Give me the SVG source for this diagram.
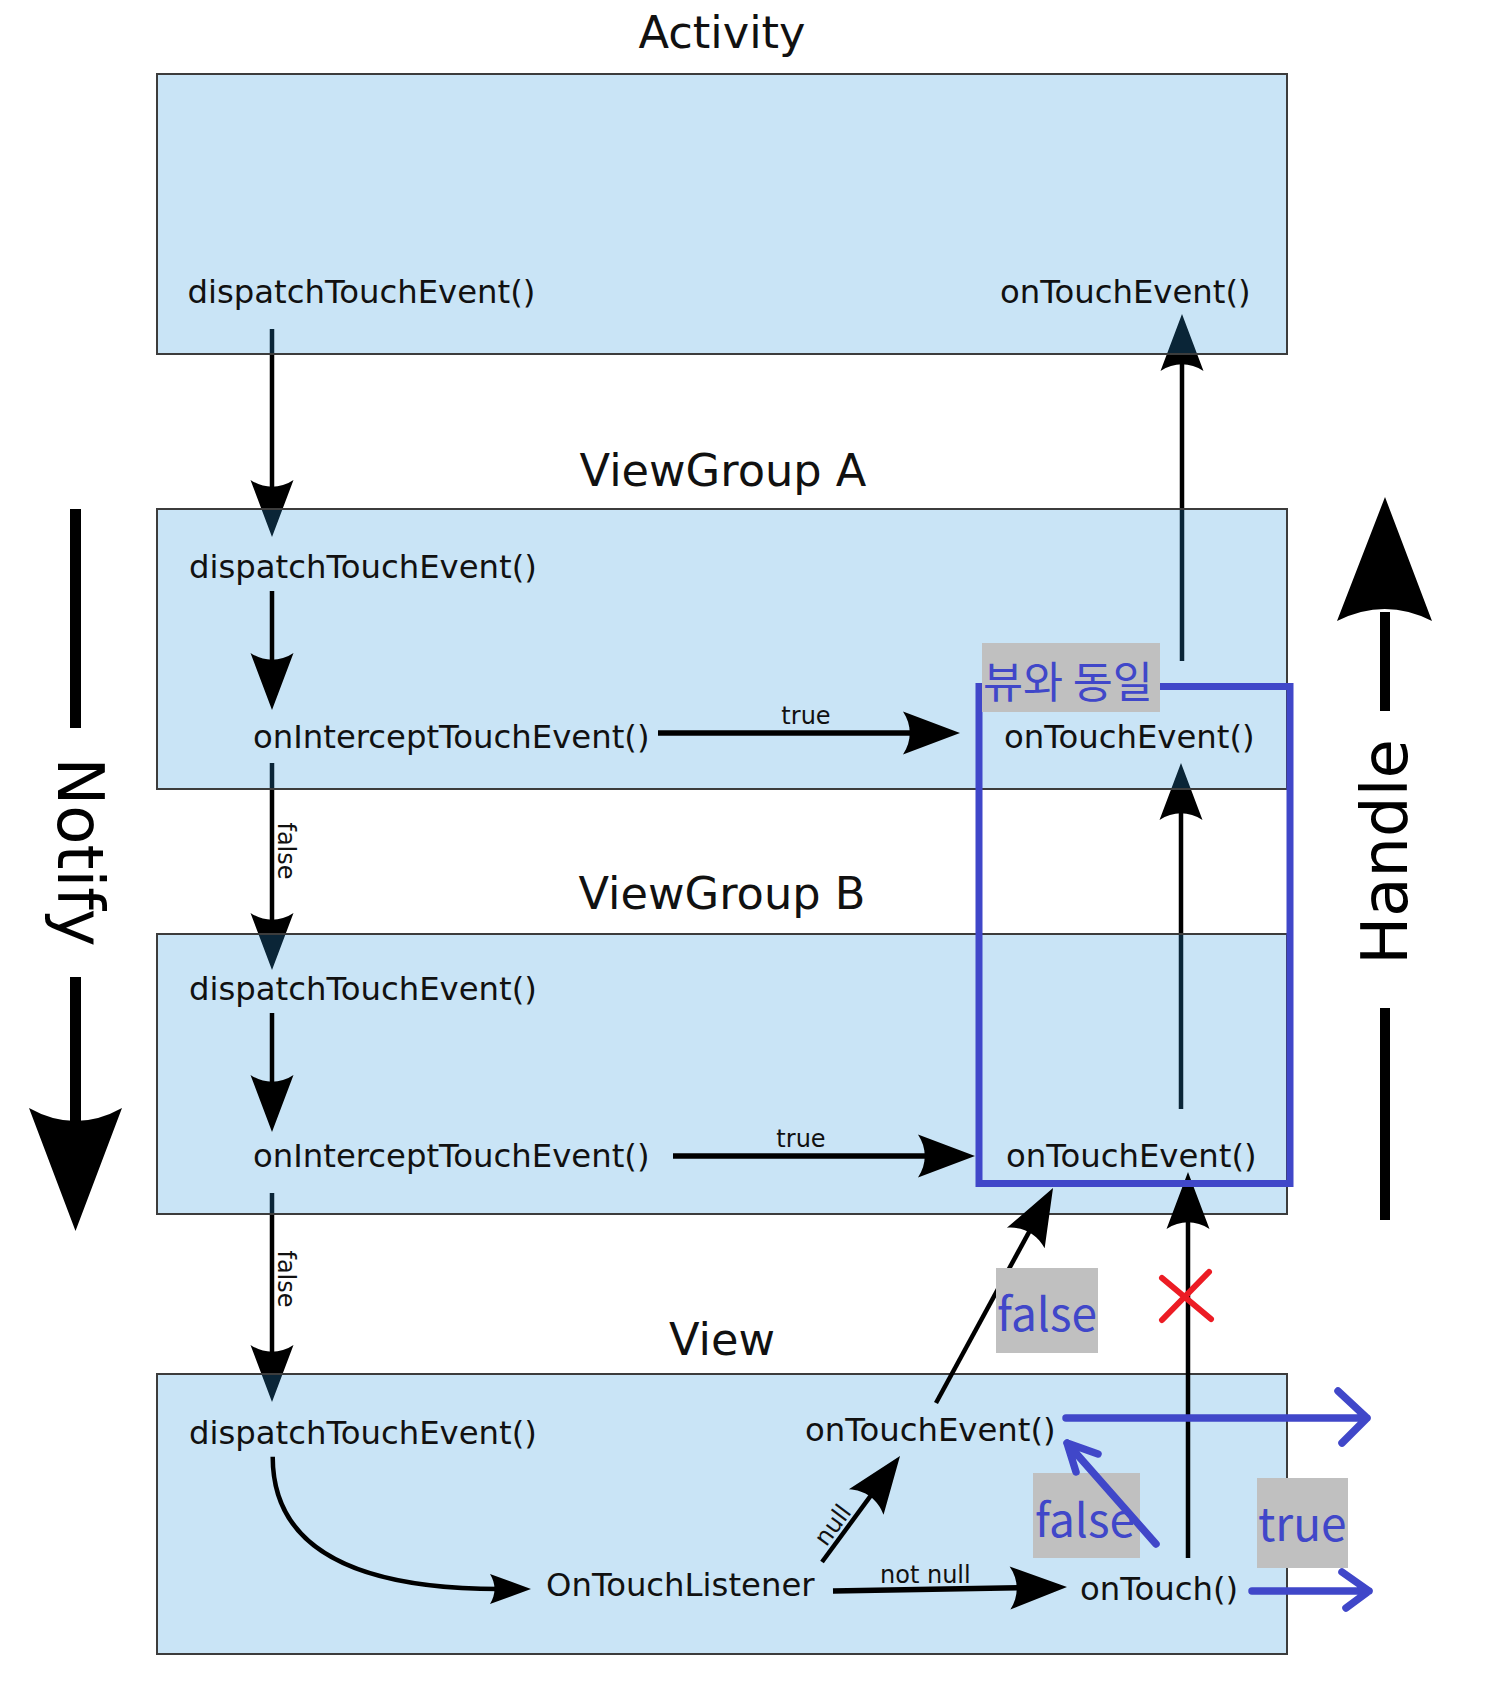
<svg xmlns="http://www.w3.org/2000/svg" width="1491" height="1681" viewBox="0 0 1491 1681">
<style>
.box{fill:rgb(40,148,220);fill-opacity:0.25;stroke:#3c3c3c;stroke-width:2}
.title{font-family:"DejaVu Sans",sans-serif;font-size:44.7px;fill:#111;text-anchor:middle}
.fn{font-family:"DejaVu Sans",sans-serif;font-size:32.3px;fill:#111}
.lbl{font-family:"DejaVu Sans",sans-serif;font-size:24px;fill:#111}
.big{font-family:"DejaVu Sans",sans-serif;font-size:64px;fill:#000;text-anchor:middle}
.ln{fill:none;stroke:#000;stroke-width:4.5}
.lnb{fill:none;stroke:#000;stroke-width:5.5}
.blue{fill:none;stroke:#4047c9;stroke-width:7.5;stroke-linecap:round;stroke-linejoin:round}
.gray{fill:#c0c0c0}
.btxt{font-family:"Noto Sans CJK KR","Noto Sans",sans-serif;font-size:46px;fill:#4047c9}
.ktxt{font-family:"Noto Sans CJK KR",sans-serif;font-size:43.5px;fill:#4047c9}
</style>
<defs>
<marker id="h" markerUnits="userSpaceOnUse" orient="auto" overflow="visible" markerWidth="1" markerHeight="1" refX="0" refY="0">
<path d="M40,0 L-17,-21.5 C-8,-8 -8,8 -17,21.5 Z" fill="#000"/>
</marker>
<marker id="hs" markerUnits="userSpaceOnUse" orient="auto" overflow="visible" markerWidth="1" markerHeight="1" refX="0" refY="0">
<path d="M31,0 L-10,-15 C-4,-5 -4,5 -10,15 Z" fill="#000"/>
</marker>
</defs>
<rect width="1491" height="1681" fill="#fff"/>

<g id="connectors-back">
<path class="ln" d="M272,329 V497" marker-end="url(#h)"/>
<path class="ln" d="M272,763 V930" marker-end="url(#h)"/>
<text class="lbl" transform="translate(278,851) rotate(90)" text-anchor="middle">false</text>
<path class="ln" d="M272,1193 V1362" marker-end="url(#h)"/>
<text class="lbl" transform="translate(278,1279) rotate(90)" text-anchor="middle">false</text>
<path class="ln" d="M1182,661 V354" marker-end="url(#h)"/>
<path class="ln" d="M1181,1109 V803" marker-end="url(#h)"/>
</g>

<g id="activity">
<text class="title" x="722" y="48">Activity</text>
<rect class="box" x="157" y="74" width="1130" height="280"/>
<text class="fn" x="187.5" y="303">dispatchTouchEvent()</text>
<text class="fn" x="1000" y="303">onTouchEvent()</text>
</g>

<g id="viewgroup-a">
<text class="title" x="723" y="486">ViewGroup A</text>
<rect class="box" x="157" y="509" width="1130" height="280"/>
<text class="fn" x="189" y="578">dispatchTouchEvent()</text>
<text class="fn" x="253" y="748">onInterceptTouchEvent()</text>
<text class="fn" x="1004" y="748">onTouchEvent()</text>
</g>

<g id="viewgroup-b">
<text class="title" x="722" y="909">ViewGroup B</text>
<rect class="box" x="157" y="934" width="1130" height="280"/>
<text class="fn" x="189" y="1000">dispatchTouchEvent()</text>
<text class="fn" x="253" y="1167">onInterceptTouchEvent()</text>
<text class="fn" x="1006" y="1167">onTouchEvent()</text>
</g>

<g id="view">
<text class="title" x="722" y="1355">View</text>
<rect class="box" x="157" y="1374" width="1130" height="280"/>
<text class="fn" x="189" y="1444">dispatchTouchEvent()</text>
<text class="fn" x="805" y="1441">onTouchEvent()</text>
<text class="fn" x="546" y="1596">OnTouchListener</text>
<text class="fn" x="1080" y="1600">onTouch()</text>
</g>

<g id="connectors">
<path class="ln" d="M272,591 V670" marker-end="url(#h)"/>
<path class="ln" d="M272,1013 V1092" marker-end="url(#h)"/>
<path class="lnb" d="M658,733 H920" marker-end="url(#h)"/>
<text class="lbl" x="806" y="724" text-anchor="middle">true</text>
<path class="lnb" d="M673,1156 H935" marker-end="url(#h)"/>
<text class="lbl" x="801" y="1147" text-anchor="middle">true</text>
<path class="ln" d="M272.7,1456.7 C272.7,1540 340,1589 500,1589" marker-end="url(#hs)"/>
<path class="lnb" d="M833,1591 L1027,1587.7" marker-end="url(#h)"/>
<text class="lbl" x="880" y="1583">not null</text>
<path class="ln" d="M822,1562 L876.3,1488.2" marker-end="url(#h)"/>
<text class="lbl" transform="translate(839.3,1530) rotate(-53.6)" text-anchor="middle">null</text>
<path class="ln" d="M936,1403 L1033.9,1223.1" marker-end="url(#h)"/>
<path class="ln" d="M1188,1558 V1212" marker-end="url(#h)"/>
</g>

<g id="notify">
<path d="M75.5,509 V728 M75.5,977 V1125" stroke="#000" stroke-width="11" fill="none"/>
<path d="M75.5,1231 L29,1108 Q75.5,1134 122,1108 Z" fill="#000"/>
<text class="big" transform="translate(58,852) rotate(90)">Notify</text>
</g>

<g id="handle">
<path d="M1385,612 V711 M1385,1008 V1220" stroke="#000" stroke-width="10" fill="none"/>
<path d="M1385,497 L1337,621 Q1385,597 1432,621 Z" fill="#000"/>
<text class="big" transform="translate(1407,852) rotate(-90)">Handle</text>
</g>

<g id="annotations">
<rect x="979" y="686.5" width="311" height="497" fill="none" stroke="#4047c9" stroke-width="7"/>
<rect class="gray" x="982" y="643" width="178" height="69"/>
<text class="ktxt" x="983" y="698">뷰와 동일</text>
<rect class="gray" x="996" y="1268" width="102" height="85"/>
<text class="btxt" x="997" y="1331">false</text>
<rect class="gray" x="1033" y="1473" width="107" height="85"/>
<text class="btxt" x="1035" y="1537">false</text>
<rect class="gray" x="1257" y="1478" width="91" height="90"/>
<text class="btxt" x="1258" y="1541">true</text>
<path class="blue" d="M1066,1418 H1367 M1338,1391 L1367,1418 L1342,1443"/>
<path class="blue" d="M1252,1591 H1369 M1342,1572 L1369,1591 L1346,1608"/>
<path class="blue" d="M1156,1544 L1067,1443 M1098,1454 L1067,1443 L1076,1472"/>
<path d="M1162,1278 L1211,1319 M1209,1272 L1162,1320" stroke="#ec1c24" stroke-width="6" stroke-linecap="round" fill="none"/>
</g>
</svg>
